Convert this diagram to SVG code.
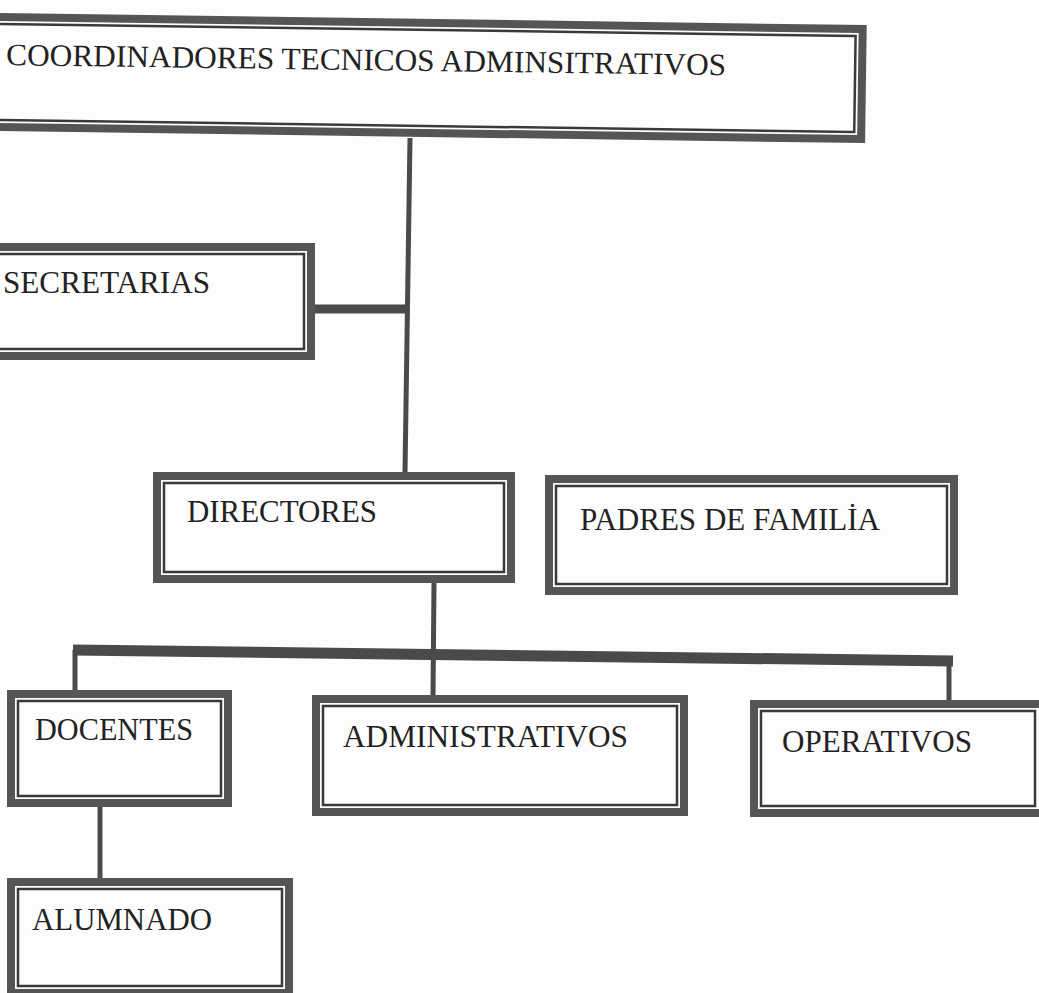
<svg xmlns="http://www.w3.org/2000/svg" width="1039" height="993" viewBox="0 0 1039 993">
<style>
.band{fill:none;stroke:#555;stroke-width:8}
.inner{fill:none;stroke:#3a3a3a;stroke-width:2.5}
.lbl{font-family:"Liberation Serif","Times New Roman",serif;font-size:31px;fill:#222}
.conn{stroke:#4a4a4a;fill:none;stroke-linecap:butt}
</style>
<rect width="1039" height="993" fill="#fdfdfd"/>
<g id="connectors">
<line class="conn" x1="410" y1="138" x2="405" y2="472" stroke-width="5"/>
<line class="conn" x1="313" y1="309" x2="407" y2="309" stroke-width="9"/>
<line class="conn" x1="434" y1="583" x2="433" y2="695" stroke-width="5"/>
<line class="conn" x1="73" y1="650" x2="953" y2="661" stroke-width="11"/>
<line class="conn" x1="75" y1="650" x2="75" y2="690" stroke-width="5"/>
<line class="conn" x1="949" y1="661" x2="949" y2="702" stroke-width="5"/>
<line class="conn" x1="100" y1="807" x2="100" y2="878" stroke-width="5"/>
</g>
<g id="coordinadores" transform="rotate(0.8)">
<rect class="band" x="-16" y="17" width="879" height="110"/>
<rect class="inner" x="-9" y="24" width="865" height="96"/>
<text class="lbl" x="7" y="65" textLength="720" lengthAdjust="spacingAndGlyphs">COORDINADORES TECNICOS ADMINSITRATIVOS</text>
</g>
<g id="secretarias">
<rect class="band" x="-16" y="247" width="327" height="109"/>
<rect class="inner" x="-9" y="254" width="313" height="95"/>
<text class="lbl" x="3" y="293" textLength="207" lengthAdjust="spacingAndGlyphs">SECRETARIAS</text>
</g>
<g id="directores">
<rect class="band" x="157" y="476" width="354" height="103"/>
<rect class="inner" x="164" y="483" width="340" height="89"/>
<text class="lbl" x="187" y="522" textLength="190" lengthAdjust="spacingAndGlyphs">DIRECTORES</text>
</g>
<g id="padres">
<rect class="band" x="549" y="479" width="405" height="112"/>
<rect class="inner" x="556" y="486" width="391" height="98"/>
<text class="lbl" x="580" y="530" textLength="300" lengthAdjust="spacingAndGlyphs">PADRES DE FAMILİA</text>
</g>
<g id="docentes">
<rect class="band" x="11" y="694" width="217" height="109"/>
<rect class="inner" x="18" y="701" width="203" height="95"/>
<text class="lbl" x="35" y="740" textLength="158" lengthAdjust="spacingAndGlyphs">DOCENTES</text>
</g>
<g id="administrativos">
<rect class="band" x="316" y="699" width="368" height="113"/>
<rect class="inner" x="323" y="706" width="354" height="99"/>
<text class="lbl" x="343" y="747" textLength="285" lengthAdjust="spacingAndGlyphs">ADMINISTRATIVOS</text>
</g>
<g id="operativos">
<rect class="band" x="754" y="704" width="300" height="109"/>
<rect class="inner" x="761" y="711" width="274" height="95"/>
<text class="lbl" x="782" y="752" textLength="190" lengthAdjust="spacingAndGlyphs">OPERATIVOS</text>
</g>
<g id="alumnado">
<rect class="band" x="11" y="882" width="278" height="111"/>
<rect class="inner" x="18" y="889" width="264" height="97"/>
<text class="lbl" x="32" y="930" textLength="180" lengthAdjust="spacingAndGlyphs">ALUMNADO</text>
</g>
</svg>
